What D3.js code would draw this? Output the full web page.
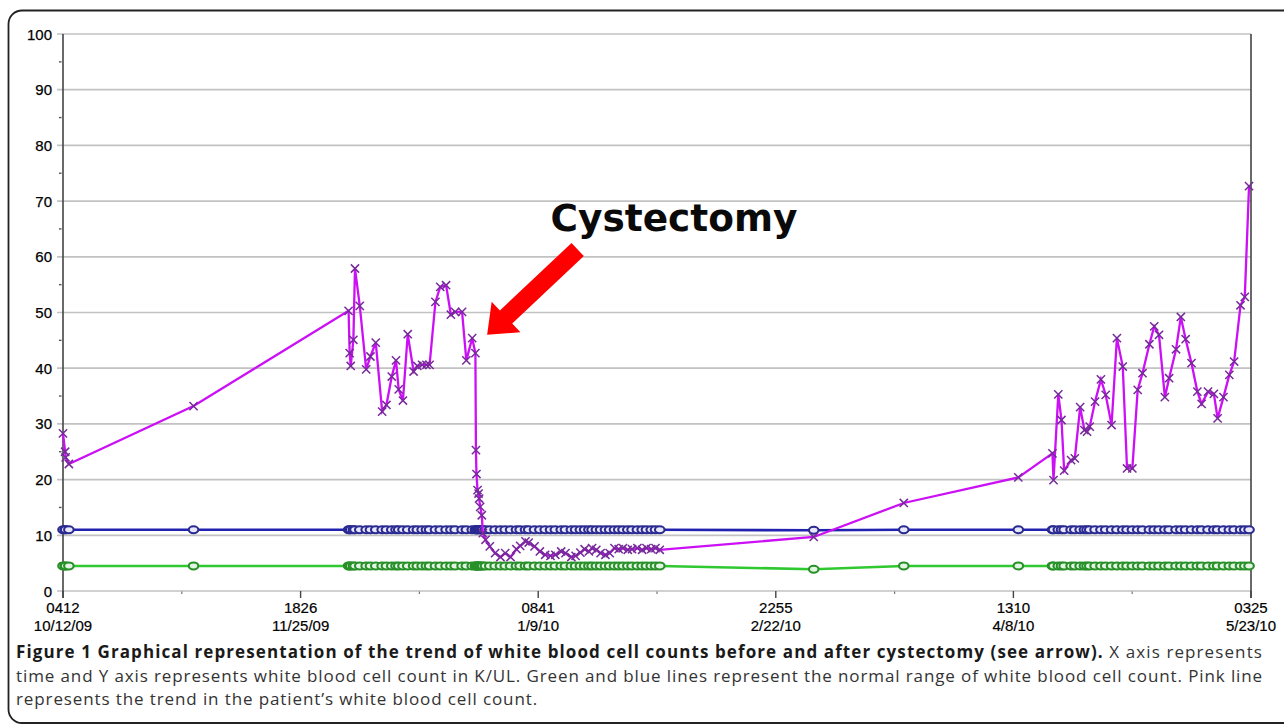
<!DOCTYPE html>
<html><head><meta charset="utf-8">
<script src="https://cdn.jsdelivr.net/npm/d3@7"></script>
<style>html,body{margin:0;padding:0;background:#fff;overflow:hidden}</style>
</head><body><svg id="c" width="1284" height="728"></svg>
<script>
// ---- data (x = days since 10/12/09 04:12) ----
const dayOffsets = [
  0,0.4,0.5,1.1,24.5,53.6,53.8,54.0,54.5,54.8,
  55.7,56.9,57.7,58.7,59.9,60.7,61.7,62.5,63.0,63.8,
  64.7,65.8,66.5,67.4,68.2,68.8,69.9,70.8,71.9,72.8,
  73.6,74.9,75.7,76.8,77.4,77.5,77.6,77.8,78.0,78.1,
  78.3,78.6,78.8,79.3,80.1,81.1,82.1,83.0,84.0,85.1,
  85.8,86.8,87.4,88.5,89.5,90.5,91.5,92.4,93.5,94.3,
  95.4,96.2,97.1,97.9,98.7,99.3,100.1,100.9,101.8,102.6,
  103.5,104.3,105.1,106.0,106.8,107.8,108.7,109.5,110.4,111.2,
  112.0,140.9,157.8,179.3,185.7,185.9,186.8,187.4,187.9,189.2,
  189.9,190.9,191.7,192.2,192.7,193.7,194.8,195.7,196.8,197.8,
  198.9,199.7,200.7,201.7,202.6,203.9,204.8,205.7,206.8,207.6,
  208.9,209.8,210.7,211.8,212.9,213.7,214.9,216.0,216.7,217.8,
  218.9,219.8,221.0,221.8,222.6
];
const wbcValues = [
  28.3,25.0,24.0,22.8,33.2,50.3,42.7,40.4,45.1,57.9,
  51.2,39.8,42.1,44.6,32.2,33.4,38.5,41.4,36.2,34.2,
  46.1,39.4,40.4,40.6,40.6,40.6,51.9,54.6,54.9,49.6,
  50.1,50.1,41.4,45.4,42.7,25.3,21.0,18.1,17.5,16.6,
  15.1,13.6,10.4,9.2,8.0,6.8,6.1,6.8,6.1,7.5,
  8.1,8.9,8.7,8.0,7.1,6.5,6.3,6.5,7.1,6.8,
  6.1,6.3,6.9,7.5,7.1,7.7,7.4,6.8,6.5,6.8,
  7.7,7.5,7.7,7.4,7.5,7.7,7.4,7.7,7.5,7.7,
  7.4,9.7,15.8,20.4,24.7,19.9,35.3,30.7,21.6,23.5,
  23.8,33.0,28.9,28.6,29.5,34.0,38.0,35.2,29.8,45.4,
  40.3,22.0,22.0,36.1,39.1,44.3,47.5,46.0,34.8,38.2,
  43.4,49.2,45.2,40.9,35.8,33.6,35.8,35.4,31.0,34.8,
  38.8,41.2,51.3,52.8,72.7
];
const upperNormal = [
  11,11,11,11,11,11,11,11,11,11,
  11,11,11,11,11,11,11,11,11,11,
  11,11,11,11,11,11,11,11,11,11,
  11,11,11,11,11,11,11,11,11,11,
  11,11,11,11,11,11,11,11,11,11,
  11,11,11,11,11,11,11,11,11,11,
  11,11,11,11,11,11,11,11,11,11,
  11,11,11,11,11,11,11,11,11,11,
  11,10.9,11,11,11,11,11,11,11,11,
  11,11,11,11,11,11,11,11,11,11,
  11,11,11,11,11,11,11,11,11,11,
  11,11,11,11,11,11,11,11,11,11,
  11,11,11,11,11
];
const lowerNormal = [
  4.5,4.5,4.5,4.5,4.5,4.5,4.5,4.5,4.5,4.5,
  4.5,4.5,4.5,4.5,4.5,4.5,4.5,4.5,4.5,4.5,
  4.5,4.5,4.5,4.5,4.5,4.5,4.5,4.5,4.5,4.5,
  4.5,4.5,4.5,4.5,4.5,4.5,4.5,4.5,4.5,4.5,
  4.5,4.5,4.5,4.5,4.5,4.5,4.5,4.5,4.5,4.5,
  4.5,4.5,4.5,4.5,4.5,4.5,4.5,4.5,4.5,4.5,
  4.5,4.5,4.5,4.5,4.5,4.5,4.5,4.5,4.5,4.5,
  4.5,4.5,4.5,4.5,4.5,4.5,4.5,4.5,4.5,4.5,
  4.5,3.9,4.5,4.5,4.5,4.5,4.5,4.5,4.5,4.5,
  4.5,4.5,4.5,4.5,4.5,4.5,4.5,4.5,4.5,4.5,
  4.5,4.5,4.5,4.5,4.5,4.5,4.5,4.5,4.5,4.5,
  4.5,4.5,4.5,4.5,4.5,4.5,4.5,4.5,4.5,4.5,
  4.5,4.5,4.5,4.5,4.5
];
const xTickDays = [0, 44.593, 89.187, 133.780, 178.373, 222.967];
const xTickTimes = ["0412","1826","0841","2255","1310","0325"];
const xTickDates = ["10/12/09","11/25/09","1/9/10","2/22/10","4/8/10","5/23/10"];
const yTicks = [0,10,20,30,40,50,60,70,80,90,100];
const yMinorTicks = [5,15,25,35,45,55,65,75,85,95];
const annotationText = "Cystectomy";
const captionBold = "Figure 1 Graphical representation of the trend of white blood cell counts before and after cystectomy (see arrow).";
const captionLines = [
  " X axis represents",
  "time and Y axis represents white blood cell count in K/UL. Green and blue lines represent the normal range of white blood cell count. Pink line",
  "represents the trend in the patient’s white blood cell count."
];

// ---- layout ----
const svg = d3.select("#c");
const x = d3.scaleLinear().domain([0, 222.967]).range([63, 1251]);
const y = d3.scaleLinear().domain([0, 100]).range([591, 34]);
const pts = dayOffsets.map((d,i)=>({d, v: wbcValues[i], hi: upperNormal[i], lo: lowerNormal[i]}));
const axisFont = "'Liberation Sans', Arial, sans-serif";

// outer frame (rounded on left, open to the right)
svg.append("path")
  .attr("d","M1300,10.5 H22 A13.5 13.5 0 0 0 8.5,24 V709.5 A13.5 13.5 0 0 0 22,723 H1300")
  .attr("fill","none").attr("stroke","#222").attr("stroke-width",1.8);

// gridlines
svg.append("g").selectAll("line").data(yTicks).join("line")
  .attr("x1",57).attr("x2",1251)
  .attr("y1",d=>y(d)).attr("y2",d=>y(d))
  .attr("stroke","#c2c2c2").attr("stroke-width",1.7);

// y minor ticks
svg.append("g").selectAll("line").data(yMinorTicks).join("line")
  .attr("x1",59).attr("x2",61.5)
  .attr("y1",d=>y(d)).attr("y2",d=>y(d))
  .attr("stroke","#555").attr("stroke-width",1.4);

// y axis line + right line
svg.append("line").attr("x1",63).attr("x2",63).attr("y1",y(100)).attr("y2",598)
  .attr("stroke","#444").attr("stroke-width",1.6);
svg.append("line").attr("x1",1251).attr("x2",1251).attr("y1",y(100)).attr("y2",598)
  .attr("stroke","#444").attr("stroke-width",1.6);

// x ticks
svg.append("g").selectAll("line").data(xTickDays).join("line")
  .attr("x1",d=>x(d)).attr("x2",d=>x(d)).attr("y1",591).attr("y2",598)
  .attr("stroke","#444").attr("stroke-width",1.4);
const xMinor = xTickDays.slice(1).map((d,i)=>(d+xTickDays[i])/2);
svg.append("g").selectAll("line").data(xMinor).join("line")
  .attr("x1",d=>x(d)).attr("x2",d=>x(d)).attr("y1",591.5).attr("y2",594)
  .attr("stroke","#777").attr("stroke-width",1.2);

// y labels
svg.append("g").selectAll("text").data(yTicks).join("text")
  .attr("x",52).attr("y",d=>y(d)+5.5)
  .attr("text-anchor","end")
  .attr("font-family",axisFont).attr("font-size",15)
  .attr("fill","#000").attr("stroke","#000").attr("stroke-width",0.25)
  .text(d=>d);

// x labels
const xl = svg.append("g").selectAll("g").data(xTickDays).join("g");
xl.append("text").attr("x",d=>x(d)).attr("y",613).attr("text-anchor","middle")
  .attr("font-family",axisFont).attr("font-size",15)
  .attr("fill","#000").attr("stroke","#000").attr("stroke-width",0.2)
  .text((d,i)=>xTickTimes[i]);
xl.append("text").attr("x",d=>x(d)).attr("y",631).attr("text-anchor","middle")
  .attr("font-family",axisFont).attr("font-size",15)
  .attr("fill","#000").attr("stroke","#000").attr("stroke-width",0.2)
  .text((d,i)=>xTickDates[i]);

// normal range lines
const lineHi = d3.line().x(p=>x(p.d)).y(p=>y(p.hi));
const lineLo = d3.line().x(p=>x(p.d)).y(p=>y(p.lo));
svg.append("path").attr("d",lineHi(pts)).attr("fill","none").attr("stroke","#2222b0").attr("stroke-width",2.6);
svg.append("path").attr("d",lineLo(pts)).attr("fill","none").attr("stroke","#30c830").attr("stroke-width",2.6);
svg.append("g").selectAll("ellipse").data(pts).join("ellipse")
  .attr("cx",p=>x(p.d)).attr("cy",p=>y(p.hi)).attr("rx",4.8).attr("ry",3.5)
  .attr("fill","#e8e8f8").attr("stroke","#2a2a92").attr("stroke-width",2.1);
svg.append("g").selectAll("ellipse").data(pts).join("ellipse")
  .attr("cx",p=>x(p.d)).attr("cy",p=>y(p.lo)).attr("rx",4.8).attr("ry",3.5)
  .attr("fill","#e2f4e2").attr("stroke","#289028").attr("stroke-width",2.1);

// WBC line
const lineW = d3.line().x(p=>x(p.d)).y(p=>y(p.v));
svg.append("path").attr("d",lineW(pts)).attr("fill","none").attr("stroke","#cc10f5").attr("stroke-width",2.3);
const s = 4.1;
svg.append("g").selectAll("path").data(pts).join("path")
  .attr("d",p=>{const cx=x(p.d), cy=y(p.v);
    return `M${cx-s},${cy-s}L${cx+s},${cy+s}M${cx-s},${cy+s}L${cx+s},${cy-s}`;})
  .attr("stroke","#762a9a").attr("stroke-width",1.5).attr("fill","none");

// arrow annotation (anchored in data units)
const arrowTip = {d: 79.6, v: 46.0};
const arrowTail = {d: 96.6, v: 61.3};
(function(){
  const tx=x(arrowTip.d), ty=y(arrowTip.v), sx=x(arrowTail.d), sy=y(arrowTail.v);
  const L=Math.hypot(tx-sx,ty-sy), ux=(tx-sx)/L, uy=(ty-sy)/L, nx=-uy, ny=ux;
  const hl=26, hw=21, sw=9;
  const bx=tx-ux*hl, by=ty-uy*hl;
  const P=[[sx+nx*sw,sy+ny*sw],[bx+nx*sw,by+ny*sw],[bx+nx*hw,by+ny*hw],[tx,ty],
           [bx-nx*hw,by-ny*hw],[bx-nx*sw,by-ny*sw],[sx-nx*sw,sy-ny*sw]];
  svg.append("polygon").attr("points",P.map(p=>p.join(",")).join(" ")).attr("fill","#ff0000");
})();
const ann = svg.append("text").attr("x",x(91.5)).attr("y",y(64.6))
  .attr("font-family","'DejaVu Sans', sans-serif").attr("font-weight","bold")
  .attr("font-size",35).attr("fill","#0a0a0a").text(annotationText);
{ const w = ann.node().getComputedTextLength(); ann.attr("font-size", Math.min(38, 35*247/w)); }

// caption
const capFont = "'Open Sans', 'Noto Sans', sans-serif";
const capX = 16, capRight = 1263, capSize = 17;
function fitLine(t){
  const w = t.node().getComputedTextLength();
  const n = t.text().length;
  t.attr("letter-spacing", (capRight-capX-w)/n);
}
const cap = svg.append("text").attr("x",capX).attr("y",658)
  .attr("font-family",capFont).attr("font-size",capSize).attr("fill","#333");
cap.append("tspan").attr("font-weight",700).attr("fill","#1a1a1a").text(captionBold);
cap.append("tspan").text(captionLines[0]);
fitLine(cap);
const l2 = svg.append("text").attr("x",capX).attr("y",681.5)
  .attr("font-family",capFont).attr("font-size",capSize).attr("fill","#333").text(captionLines[1]);
fitLine(l2);
svg.append("text").attr("x",capX).attr("y",705)
  .attr("font-family",capFont).attr("font-size",capSize).attr("fill","#333")
  .attr("letter-spacing", l2.attr("letter-spacing"))
  .text(captionLines[2]);
</script>
</body></html>
